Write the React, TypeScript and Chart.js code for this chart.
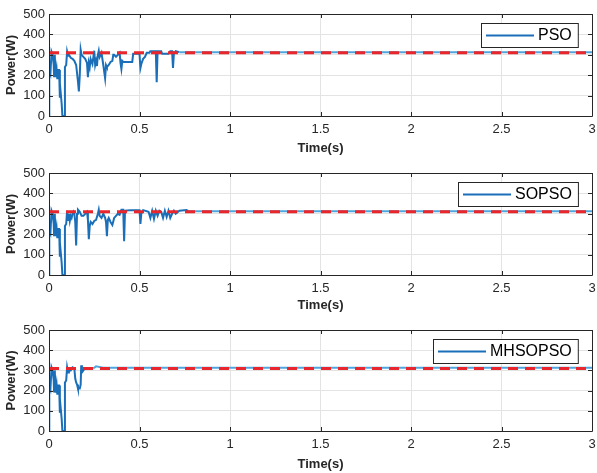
import React, { useEffect, useRef } from "react";
import { Chart, registerables } from "chart.js";

Chart.register(...registerables);

// ---- data ----
const timeTicks = [0, 0.5, 1, 1.5, 2, 2.5, 3];
const powerTicks = [0, 100, 200, 300, 400, 500];

const refTime = [0, 3];
const refPower = [310, 310];

const psoTime = [
  0, 0.001, 0.002, 0.008, 0.014, 0.02, 0.026, 0.028, 0.032, 0.036, 0.042, 0.046, 0.05, 0.056, 0.06, 0.064,
  0.07, 0.074, 0.084, 0.088, 0.095, 0.1, 0.105, 0.11, 0.12, 0.13, 0.14, 0.15, 0.16, 0.165, 0.17, 0.175,
  0.18, 0.19, 0.2, 0.21, 0.215, 0.22, 0.225, 0.23, 0.24, 0.25, 0.255, 0.26, 0.265, 0.27, 0.275, 0.28,
  0.29, 0.3, 0.31, 0.315, 0.32, 0.33, 0.34, 0.35, 0.355, 0.36, 0.37, 0.38, 0.39, 0.395, 0.4, 0.405,
  0.41, 0.46, 0.465, 0.5, 0.505, 0.51, 0.52, 0.53, 0.54, 0.555, 0.56, 0.59, 0.595, 0.6, 0.62, 0.625,
  0.66, 0.67, 0.68, 0.685, 0.69, 0.7, 0.72, 3,
];
const psoPower = [
  0, 0, 230, 210, 315, 300, 250, 195, 300, 190, 230, 180, 225, 225, 90, 120,
  60, 0, 0, 240, 250, 315, 295, 300, 285, 280, 270, 250, 170, 120, 200, 325,
  300, 290, 280, 260, 190, 260, 240, 280, 255, 320, 250, 270, 245, 300, 320, 290,
  310, 250, 185, 250, 240, 250, 265, 270, 300, 300, 290, 300, 310, 260, 230, 270,
  265, 265, 305, 305, 235, 255, 280, 290, 310, 310, 318, 318, 165, 318, 318, 305,
  305, 318, 318, 235, 305, 318, 313, 313,
];

const sopsoTime = [
  0, 0.001, 0.002, 0.008, 0.014, 0.02, 0.026, 0.028, 0.032, 0.036, 0.042, 0.046, 0.05, 0.056, 0.06, 0.064,
  0.07, 0.074, 0.084, 0.088, 0.095, 0.1, 0.105, 0.11, 0.115, 0.12, 0.125, 0.13, 0.135, 0.14, 0.145, 0.15,
  0.155, 0.16, 0.17, 0.18, 0.19, 0.2, 0.21, 0.215, 0.22, 0.225, 0.23, 0.24, 0.25, 0.26, 0.27, 0.275,
  0.28, 0.29, 0.3, 0.31, 0.315, 0.32, 0.325, 0.33, 0.34, 0.35, 0.36, 0.37, 0.38, 0.39, 0.4, 0.41,
  0.415, 0.42, 0.45, 0.5, 0.505, 0.51, 0.52, 0.55, 0.56, 0.57, 0.58, 0.59, 0.6, 0.61, 0.62, 0.63,
  0.64, 0.65, 0.66, 0.67, 0.68, 0.69, 0.7, 0.72, 0.76, 0.77, 3,
];
const sopsoPower = [
  0, 0, 230, 210, 315, 300, 250, 195, 300, 190, 230, 180, 225, 225, 90, 120,
  60, 0, 0, 240, 250, 315, 270, 300, 265, 290, 280, 300, 310, 300, 260, 145,
  300, 320, 310, 290, 290, 300, 310, 270, 175, 240, 260, 250, 265, 270, 300, 320,
  290, 280, 300, 280, 260, 190, 270, 280, 260, 245, 280, 290, 300, 295, 320, 320,
  165, 315, 318, 318, 250, 300, 318, 310, 280, 315, 275, 315, 290, 315, 310, 280,
  315, 285, 315, 280, 300, 315, 300, 315, 318, 313, 313,
];

const mhsopsoTime = [
  0, 0.001, 0.002, 0.008, 0.014, 0.02, 0.026, 0.028, 0.032, 0.036, 0.042, 0.046, 0.05, 0.056, 0.06, 0.064,
  0.07, 0.074, 0.084, 0.088, 0.095, 0.1, 0.105, 0.11, 0.12, 0.13, 0.14, 0.145, 0.15, 0.155, 0.16, 0.17,
  0.175, 0.178, 0.182, 0.19, 0.2, 0.25, 0.26, 0.3, 3,
];
const mhsopsoPower = [
  0, 0, 230, 210, 315, 300, 250, 195, 300, 190, 230, 180, 225, 225, 90, 120,
  60, 0, 0, 240, 250, 315, 290, 305, 300, 315, 310, 260, 240, 230, 210, 210,
  230, 325, 290, 300, 312, 313, 320, 313, 313,
];

// ---- styles ----
const BLUE = "#1a6fb8";
const BLUE_LIGHT = "#4fa6dd";
const RED = "#e8262b";
const INK = "#262626";
const GRID = "#e3e3e3";
const FONT = "'Liberation Sans', Arial, Helvetica, sans-serif";

type Panel = {
  label: string;
  time: number[];
  power: number[];
  settle: number;
  top: number;
  height: number;
  padTop: number;
  axisH: number;
};

const panels: Panel[] = [
  { label: "PSO", time: psoTime, power: psoPower, settle: 0.72, top: 0, height: 157, padTop: 14, axisH: 41 },
  { label: "SOPSO", time: sopsoTime, power: sopsoPower, settle: 0.77, top: 157, height: 157, padTop: 16, axisH: 39 },
  { label: "MHSOPSO", time: mhsopsoTime, power: mhsopsoPower, settle: 0.2, top: 314, height: 159, padTop: 16, axisH: 42 },
];

const framePlugin = {
  id: "matlabFrame",
  afterDraw(chart: any) {
    const { ctx, chartArea } = chart;
    const { left, right, top, bottom } = chartArea;
    ctx.save();
    ctx.strokeStyle = INK;
    ctx.lineWidth = 1;
    ctx.beginPath();
    ctx.rect(Math.round(left) + 0.5, Math.round(top) + 0.5, Math.round(right - left), Math.round(bottom - top));
    ctx.stroke();
    const xs = chart.scales.x;
    const ys = chart.scales.y;
    ctx.beginPath();
    for (const v of timeTicks) {
      const px = Math.round(xs.getPixelForValue(v)) + 0.5;
      ctx.moveTo(px, bottom);
      ctx.lineTo(px, bottom - 4);
      ctx.moveTo(px, top);
      ctx.lineTo(px, top + 4);
    }
    for (const v of powerTicks) {
      const py = Math.round(ys.getPixelForValue(v)) + 0.5;
      ctx.moveTo(left, py);
      ctx.lineTo(left + 4, py);
      ctx.moveTo(right, py);
      ctx.lineTo(right - 4, py);
    }
    ctx.stroke();

    const ds = chart.data.datasets.find((d: any) => d.isMain);
    if (ds) {
      ctx.font = `16px ${FONT}`;
      const tw = ctx.measureText(ds.label).width;
      const h = 24;
      const w = 57 + tw + 6;
      const bx = Math.round(right - 14 - w);
      const by = Math.round(top + 9);
      ctx.fillStyle = "#ffffff";
      ctx.fillRect(bx, by, w, h);
      ctx.strokeStyle = INK;
      ctx.lineWidth = 1;
      ctx.strokeRect(bx + 0.5, by + 0.5, w, h);
      ctx.strokeStyle = BLUE;
      ctx.lineWidth = 2;
      ctx.beginPath();
      ctx.moveTo(bx + 5, by + h / 2 + 0.5);
      ctx.lineTo(bx + 53, by + h / 2 + 0.5);
      ctx.stroke();
      ctx.fillStyle = "#000000";
      ctx.textBaseline = "middle";
      ctx.textAlign = "left";
      ctx.fillText(ds.label, bx + 57, by + h / 2 + 1);
    }
    ctx.restore();
  },
};

function PowerPanel({ p }: { p: Panel }) {
  const ref = useRef<HTMLCanvasElement | null>(null);
  useEffect(() => {
    if (!ref.current) return;
    const chart = new Chart(ref.current, {
      type: "line",
      data: {
        datasets: [
          {
            label: p.label,
            isMain: true,
            data: p.time.map((t, i) => ({ x: t, y: p.power[i] })),
            borderColor: BLUE,
            borderWidth: 2,
            pointRadius: 0,
            tension: 0,
            order: 2,
            segment: {
              borderColor: (c: any) => (c.p0.parsed.x >= p.settle ? BLUE_LIGHT : BLUE),
            },
          } as any,
          {
            label: "Reference",
            data: refTime.map((t, i) => ({ x: t, y: refPower[i] })),
            borderColor: RED,
            borderWidth: 3,
            borderDash: [10, 7],
            pointRadius: 0,
            tension: 0,
            order: 1,
          },
        ],
      },
      options: {
        animation: false,
        responsive: false,
        devicePixelRatio: 1,
        layout: { padding: { top: p.padTop, right: 5, left: 0, bottom: 0 } },
        plugins: { legend: { display: false }, tooltip: { enabled: false } },
        scales: {
          x: {
            type: "linear",
            min: 0,
            max: 3,
            afterBuildTicks: (s: any) => {
              s.ticks = timeTicks.map((v) => ({ value: v }));
            },
            afterFit: (s: any) => {
              s.height = p.axisH;
              s.paddingLeft = 0;
              s.paddingRight = 0;
            },
            ticks: {
              font: { family: FONT, size: 13 },
              color: INK,
              padding: 6,
              maxRotation: 0,
              autoSkip: false,
              callback: (v: any) => String(v),
            },
            grid: { color: GRID, drawTicks: false },
            border: { display: false },
            title: {
              display: true,
              text: "Time(s)",
              font: { family: FONT, size: 13, weight: "bold" },
              color: INK,
              padding: { top: 0, bottom: 1 },
            },
          },
          y: {
            type: "linear",
            min: 0,
            max: 500,
            afterBuildTicks: (s: any) => {
              s.ticks = powerTicks.map((v) => ({ value: v }));
            },
            afterFit: (s: any) => {
              s.width = 49;
              s.paddingTop = 0;
              s.paddingBottom = 0;
            },
            ticks: {
              font: { family: FONT, size: 13 },
              color: INK,
              padding: 4,
              callback: (v: any) => String(v),
            },
            grid: { color: GRID, drawTicks: false },
            border: { display: false },
            title: {
              display: true,
              text: "Power(W)",
              font: { family: FONT, size: 13, weight: "bold" },
              color: INK,
              padding: { top: 4, bottom: 0 },
            },
          },
        },
      } as any,
      plugins: [framePlugin],
    });
    return () => chart.destroy();
  }, [p]);
  return (
    <canvas
      ref={ref}
      width={597}
      height={p.height}
      style={{ position: "absolute", left: 0, top: p.top, width: 597, height: p.height }}
    />
  );
}

export default function App() {
  return (
    <div style={{ position: "fixed", left: 0, top: 0, width: 597, height: 473, background: "#ffffff" }}>
      {panels.map((p) => (
        <PowerPanel key={p.label} p={p} />
      ))}
    </div>
  );
}
